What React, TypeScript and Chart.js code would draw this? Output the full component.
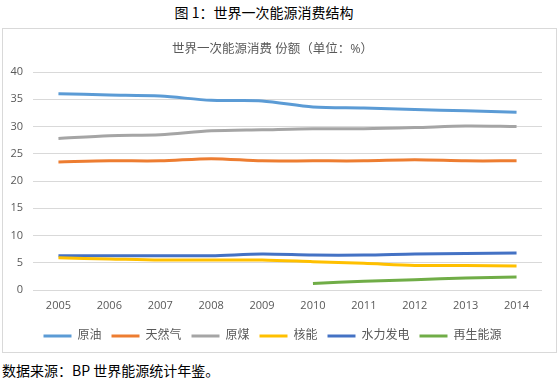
import React, { useEffect, useRef } from "react";
import { Chart, registerables } from "chart.js";

Chart.register(...registerables);

const years = ["2005", "2006", "2007", "2008", "2009", "2010", "2011", "2012", "2013", "2014"];
const crudeOil = [36.0, 35.8, 35.6, 34.8, 34.7, 33.6, 33.4, 33.1, 32.9, 32.6];
const naturalGas = [23.5, 23.7, 23.7, 24.1, 23.7, 23.7, 23.7, 23.9, 23.7, 23.7];
const coal = [27.8, 28.3, 28.5, 29.2, 29.4, 29.6, 29.6, 29.8, 30.1, 30.0];
const nuclear = [5.9, 5.7, 5.5, 5.5, 5.5, 5.2, 4.9, 4.5, 4.5, 4.4];
const hydro = [6.3, 6.3, 6.3, 6.3, 6.6, 6.4, 6.4, 6.6, 6.7, 6.8];
const renewables = [null, null, null, null, null, 1.2, 1.6, 1.9, 2.2, 2.4];
const seriesNames = ["原油", "天然气", "原煤", "核能", "水力发电", "再生能源"];
const seriesColors = ["#5B9BD5", "#ED7D31", "#A5A5A5", "#FFC000", "#4472C4", "#70AD47"];
const yTicks = [0, 5, 10, 15, 20, 25, 30, 35, 40];

const FONT = "'Open Sans', 'Noto Sans CJK SC', sans-serif";

export default function App() {
  const ref = useRef<HTMLCanvasElement | null>(null);
  useEffect(() => {
    if (!ref.current) return;
    const values = [crudeOil, naturalGas, coal, nuclear, hydro, renewables];
    const chart = new Chart(ref.current, {
      type: "line",
      data: {
        labels: years,
        datasets: values.map((v, i) => ({
          label: seriesNames[i],
          data: v,
          borderColor: seriesColors[i],
          backgroundColor: seriesColors[i],
          borderWidth: 3,
          pointRadius: 0,
          pointHoverRadius: 0,
          tension: 0.3,
          fill: false,
          spanGaps: false,
        })),
      },
      options: {
        animation: false,
        responsive: false,
        maintainAspectRatio: false,
        layout: { padding: { left: 0, right: 14, top: 0, bottom: 0 } },
        plugins: {
          title: {
            display: true,
            text: "世界一次能源消费 份额（单位：%）",
            color: "#595959",
            font: { family: FONT, size: 12.5, weight: "normal" },
            padding: { top: 13, bottom: 15 },
          },
          legend: {
            position: "bottom",
            labels: {
              usePointStyle: true,
              pointStyle: "line",
              pointStyleWidth: 28,
              boxHeight: 12,
              color: "#595959",
              font: { family: FONT, size: 12 },
              padding: 10,
            },
          },
          tooltip: { enabled: false },
        },
        scales: {
          x: {
            type: "category",
            offset: true,
            grid: { display: false, drawTicks: false },
            border: { display: false },
            ticks: {
              color: "#595959",
              font: { family: FONT, size: 11 },
              maxRotation: 0,
              autoSkip: false,
              padding: 9,
            },
            afterFit: (s: any) => {
              s.height = 30;
            },
          },
          y: {
            min: 0,
            max: 40,
            afterBuildTicks: (s: any) => {
              s.ticks = yTicks.map((v) => ({ value: v }));
            },
            afterFit: (s: any) => {
              s.width = 30;
            },
            grid: { color: "#D9D9D9", lineWidth: 1, drawTicks: false },
            border: { display: false },
            ticks: {
              color: "#595959",
              font: { family: FONT, size: 11 },
              padding: 10,
            },
          },
        },
      },
    });
    return () => chart.destroy();
  }, []);

  return (
    <div
      style={{
        position: "fixed",
        left: 0,
        top: 0,
        width: 559,
        height: 382,
        background: "#fff",
        fontFamily: "'Noto Sans CJK SC', sans-serif",
      }}
    >
      <div
        style={{
          position: "absolute",
          left: 0,
          top: 3,
          width: 528,
          textAlign: "center",
          fontSize: 14,
          lineHeight: "18px",
          color: "#000",
        }}
      >
        图 1：世界一次能源消费结构
      </div>
      <div
        style={{
          position: "absolute",
          left: 2,
          top: 28,
          width: 555,
          height: 325,
          boxSizing: "border-box",
          border: "1px solid #D9D9D9",
        }}
      >
        <canvas ref={ref} width={553} height={323} style={{ display: "block", width: 553, height: 323 }} />
      </div>
      <div
        style={{
          position: "absolute",
          left: 2,
          top: 361,
          fontSize: 14,
          lineHeight: "18px",
          color: "#000",
          whiteSpace: "nowrap",
        }}
      >
        数据来源：BP 世界能源统计年鉴。
      </div>
    </div>
  );
}
